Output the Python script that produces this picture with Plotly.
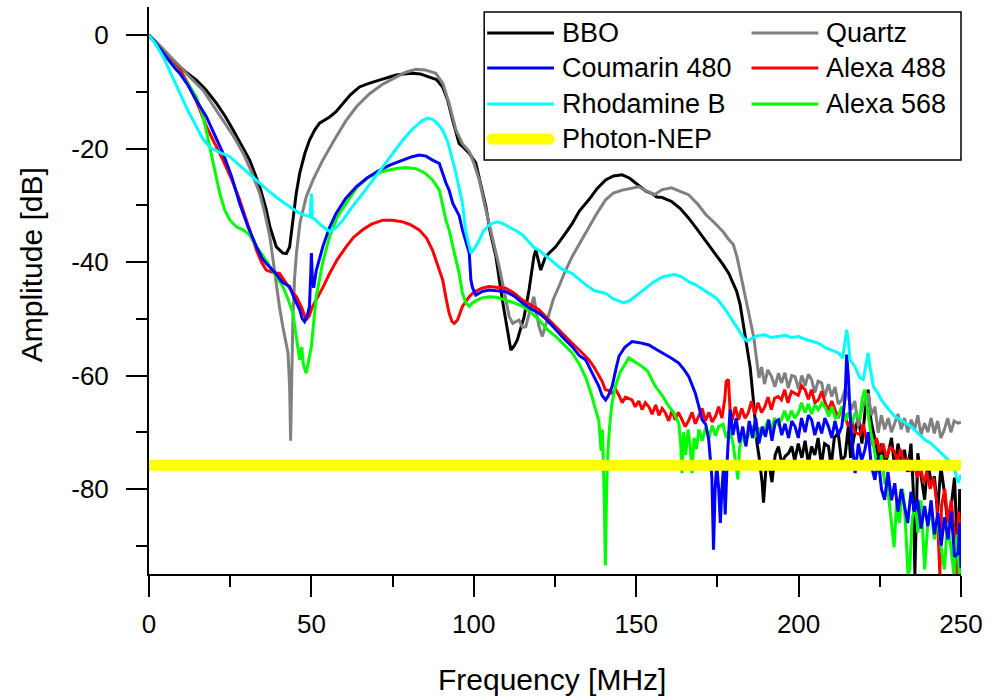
import plotly.graph_objects as go

# ---------------------------------------------------------------- data
bbo_freq = [0, 2, 4, 6, 8.5, 11, 14.6, 17.5, 20.8, 23.5, 25.9, 28.5, 31, 34.1, 36, 37.2, 39.2, 41.2, 42.3,
            43.3, 44.3, 45.3, 46.4, 48, 49.4, 51, 52.5, 55.6, 57.5, 59.7, 62, 64.8, 67.5, 70.9, 73.5, 76.1,
            78.5, 81.2, 83.5, 86.3, 88.5, 90.4, 92, 93.5, 95.5, 96.5, 98.6, 100.6, 102, 103.7, 105, 106.8,
            108.8, 110.4, 111.4, 112.4, 113.4, 115.5, 117, 118.5, 119.1, 120, 120.6, 122.1, 125.2, 127.5,
            130.3, 132.5, 135.4, 138, 140.6, 143, 145.7, 148, 150.8, 153, 154.9, 156.3, 158, 160.9, 163.5,
            166.1, 168.5, 171.4, 174, 176.7, 178.5, 180.9, 182, 183, 184, 185.1, 186.2, 187.2, 187.8, 188.8,
            189.2, 190, 190.8, 191.8, 192.8, 193.8, 194.8, 195.9, 196.9, 197.9, 198.8, 199.9, 201, 202, 203,
            204, 205, 206, 207, 208, 209.2, 210, 211, 212.2, 213.2, 214.3, 215.3, 216, 217, 218.4, 219.5,
            220.5, 221.4, 222.3, 223.5, 224.5, 225.5, 226.5, 227.6, 228.6, 229.6, 230.6, 231.6, 232.6, 233.6,
            234.6, 235.3, 235.8, 236.7, 237.7, 238.8, 239.8, 240.8, 241.8, 242.8, 243.8, 244.9, 245.9, 247,
            248, 249.1, 249.6, 250]
bbo_db = [0, -1.2, -2.6, -3.8, -5.0, -6.3, -7.9, -9.6, -12.0, -14.3, -16.7, -19.3, -22.0, -26.7, -30.5, -33.7,
          -37.3, -38.4, -38.5, -37.3, -32.6, -28, -24.3, -20.8, -18.5, -16.7, -15.5, -14.4, -13.5, -12.0,
          -10.5, -9.1, -8.5, -7.9, -7.5, -7.0, -6.8, -6.7, -6.8, -7.3, -7.8, -9.1, -11.5, -15.0, -19.1, -19.6,
          -20.8, -22.5, -26, -30.2, -34.5, -39, -46.7, -52.5, -55.5, -54.8, -53.7, -49.6, -44.9, -39, -37.9,
          -40, -41.4, -39, -37.3, -35.5, -33.2, -31, -29, -27, -25.5, -24.8, -24.6, -25.2, -26.4, -27.5,
          -27.9, -28.5, -28.6, -29.3, -30.5, -32.2, -34.0, -36.3, -38.2, -40.4, -42, -45.1, -47.5, -51.0,
          -54.5, -58.6, -65.1, -72, -74.2, -79, -82.4, -76, -75.3, -78.8, -74, -72.5, -75.5, -74.2, -73.7,
          -72.5, -75, -72, -74.5, -71.5, -75.5, -72.5, -74, -71, -75.8, -72, -72.5, -76, -71, -70.1, -75,
          -74.2, -69, -74.5, -71, -67.2, -72, -66, -62.5, -68, -71.3, -75.5, -72, -76, -73.7, -71, -76.5,
          -72, -75, -73.1, -77, -72, -80, -95, -73.7, -78, -81.9, -75, -79, -77.8, -84, -76, -80.7, -86, -83,
          -78, -93.6, -80, -88]

quartz_freq = [0, 2, 4, 6, 9.5, 13, 16.7, 19.5, 22.8, 26, 29, 31.5, 34.1, 35.7, 37.2, 38.2, 39.2, 40.2, 41.2,
               42, 42.8, 43.3, 43.6, 43.9, 44.3, 44.8, 45.4, 46.5, 48.4, 50.5, 53.5, 57, 60.7, 64, 67.9, 72,
               76.1, 79, 82.2, 85, 88.3, 90.5, 92.4, 94.5, 96.5, 98.6, 100, 101.7, 103.2, 104.7, 106.2, 107.8,
               109.9, 110.9, 112, 113.9, 115, 116, 117.3, 118.5, 119.3, 120.1, 121.1, 122.2, 123.2, 124.5,
               126.2, 128, 130.3, 132.8, 135.4, 138, 140.6, 143, 145.7, 148, 150.8, 153, 155.6, 158, 160.9,
               163.5, 166.1, 169, 171.4, 174, 176.7, 178.5, 179.9, 181, 182, 183, 184.1, 185.2, 186.2, 187,
               187.8, 188.6, 189.5, 190.5, 191.7, 192.7, 193.8, 194.7, 195.8, 196.8, 197.9, 198.9, 200, 201,
               202, 203, 204, 205, 206, 207.1, 208, 209.2, 210.2, 211.2, 212.2, 213.3, 214.3, 215.3, 216.3,
               217.3, 218.4, 219.4, 220.4, 221.4, 222.4, 223.5, 224.5, 225.5, 226.5, 227.6, 228.6, 229.6,
               230.6, 231.6, 232.6, 233.6, 234.7, 235.7, 236.7, 237.7, 238.8, 239.8, 240.8, 241.8, 242.8,
               243.8, 244.9, 245.9, 246.9, 247.9, 249.1, 250]
quartz_db = [0, -1.0, -2.2, -3.4, -5.6, -7.6, -9.7, -12.2, -15.0, -17.8, -20.8, -24, -27.9, -31.5, -35.5, -40,
             -44.3, -48, -51.4, -53.5, -56, -62, -71.5, -62, -50, -43, -38.4, -33, -28.5, -25.5, -22, -18.5,
             -15, -12.5, -10.3, -8.6, -7.3, -6.5, -6.0, -6.1, -6.7, -8.5, -12.0, -16.7, -19.1, -20.5, -22.5,
             -25.5, -29.5, -33.2, -37, -40.8, -46.7, -49.6, -50.8, -50.2, -51.5, -51.4, -48.5, -46.1, -49,
             -51.4, -53.1, -51, -49, -46.5, -44.3, -41.8, -39, -36.5, -33.8, -31.3, -29, -27.8, -27.3, -27.0,
             -26.7, -27.4, -28.1, -27.2, -26.9, -27.5, -28.1, -29.8, -31.6, -33, -34.6, -36, -36.9, -39,
             -41.6, -44.5, -47.5, -50.5, -53.3, -57, -60.4, -58.5, -61.5, -59, -60.2, -62, -59.6, -61.3,
             -59.5, -62.2, -60, -60.2, -62.4, -60, -61.8, -59.8, -60.7, -63, -61, -61.3, -63.8, -61.5, -63.7,
             -62, -65, -64.3, -62.5, -63.7, -66, -64.5, -69, -66, -64.5, -63.1, -67, -65.5, -70.1, -67, -69.5,
             -67.5, -70, -68.4, -66.8, -69.5, -67.5, -70, -67.8, -69.5, -67, -70.5, -68.4, -70, -67.5, -70.2,
             -68, -71, -69.5, -67.5, -70, -68, -68.4, -68.2]

coumarin_freq = [0, 2, 4, 6, 8, 9.5, 12, 14.5, 17.7, 20, 22.8, 25.5, 27.9, 30.5, 33.1, 35, 37.2, 39, 41, 43.3,
                 44.8, 46.4, 47.2, 47.9, 48.7, 49.4, 49.8, 50, 50.3, 50.7, 51.5, 53.5, 55.5, 57.6, 60.5, 63.8,
                 67, 70.9, 74.5, 78.1, 81, 83.2, 85.3, 87.3, 89.4, 91.4, 92.4, 93.5, 95.5, 96.5, 97.6, 98.6,
                 99.1, 99.6, 100.6, 102.5, 104.7, 107, 109.8, 112.5, 115, 117.5, 120.1, 122.5, 125.2, 127.8,
                 130.3, 132.5, 134.4, 136.5, 138.5, 139.5, 140.6, 141.5, 142.6, 143.7, 144.7, 146.5, 148.7,
                 151, 153.9, 156.5, 159, 161, 163.1, 164.8, 166.2, 167.2, 168.2, 169.3, 170.3, 171.4, 172.3,
                 173.3, 173.8, 174.3, 174.8, 175.4, 175.9, 176.4, 176.9, 177.4, 178.1, 178.9, 179.8, 180.8,
                 181.8, 182.8, 183.8, 184.8, 185.8, 186.8, 187.8, 188.8, 189.8, 190.8, 191.8, 192.8, 193.8,
                 194.8, 195.8, 196.9, 197.9, 198.9, 199.9, 200.9, 202, 203, 204, 205, 206.1, 207.1, 208.1,
                 209.2, 210.2, 211.2, 212.2, 213.3, 214.3, 214.8, 215.3, 215.8, 216.4, 217.4, 218.4, 219.4,
                 220.4, 221.4, 222.4, 223.5, 224.5, 225.5, 226.5, 227.5, 228.6, 229.6, 230.6, 231.6, 232.6,
                 233.6, 234.6, 235.7, 236.7, 237.7, 238.8, 239.8, 240.8, 241.8, 242.9, 243.9, 244.9, 246, 247,
                 248, 249.1, 249.6, 250]
coumarin_db = [0, -1.3, -2.8, -4.3, -5.8, -6.7, -8.8, -11.4, -14.4, -17.3, -20.8, -25, -29.6, -33.8, -37.3,
               -39.5, -40.8, -42, -43.5, -44.3, -46.5, -48.4, -50, -50.5, -49.5, -47.8, -42, -38.4, -43, -44.5,
               -41.5, -37.3, -34, -31.4, -28.8, -26.7, -25.2, -23.8, -22.8, -22.0, -21.4, -21.1, -21.3, -22.0,
               -22.6, -26.0, -27.3, -29.6, -31.8, -34.3, -36.5, -38.4, -43.1, -44.5, -45.8, -45.2, -44.9, -45.0,
               -45.2, -46, -47.2, -48.2, -49, -50.2, -51.9, -53.5, -54.9, -56.5, -57.2, -59.5, -61.9, -63.5,
               -64.3, -63.5, -61.9, -59, -56.6, -55, -54, -54.2, -54.6, -55.5, -56.3, -57, -57.8, -59, -60.2,
               -61.5, -63.1, -65.5, -67.8, -68.6, -71.2, -78, -90.7, -80, -75.8, -80, -86, -80, -76, -84.5, -74,
               -66, -70.5, -67.5, -71.8, -69, -72.5, -68, -71, -67.5, -72, -69, -70.8, -67.8, -71.5, -68.2,
               -67.8, -70.5, -68.5, -71, -68, -69, -71, -67.5, -70, -67, -67.8, -70.5, -68.2, -70.2, -67.5,
               -69, -71, -68, -70.5, -69, -64, -56.3, -60, -66, -71.3, -77.2, -72, -75, -73.1, -70, -76,
               -78.4, -74.5, -80, -81.9, -77, -82, -79, -84, -80, -83, -86, -80.5, -84, -81.9, -87, -83, -86.6,
               -82, -88, -84.2, -90, -85, -88.9, -84, -92, -91.3, -86, -94]

alexa488_freq = [0, 2, 4, 6, 8, 9.5, 12, 14.5, 17.7, 20, 22.8, 25.5, 27.9, 30.5, 33.1, 34.6, 36.1, 38, 40.2, 42,
                 43.8, 45.4, 47, 48.4, 49.3, 50.2, 51.5, 53.5, 55.6, 58, 60.7, 63, 65.8, 68.5, 72, 75, 78.1,
                 80.5, 83.2, 85.5, 87.3, 89.4, 90.4, 91.5, 92.4, 93.3, 94, 95, 96.5, 98.6, 99.6, 101, 102.5,
                 104.7, 107, 109.8, 112.5, 115, 117.5, 120.1, 122.5, 125.2, 127.8, 130.3, 133, 135.4, 137,
                 138.5, 139.5, 140.5, 141.9, 142.6, 143.7, 144.7, 145.7, 146.7, 148.7, 149.7, 150.8, 151.8,
                 152.8, 153.9, 154.9, 156, 157, 158, 159, 160, 161, 162, 163, 164.1, 165.1, 166.1, 167.2,
                 168.2, 169.3, 170.3, 171.3, 172.4, 173.4, 174.4, 175.4, 176.4, 177.3, 177.7, 178.4, 178.9,
                 179.5, 180.5, 181.5, 182.5, 183.5, 184.5, 185.5, 186.5, 187.5, 188.6, 189.6, 190.6, 191.6,
                 192.6, 193.7, 194.7, 195.7, 196.7, 197.8, 198.9, 199.9, 200.9, 202, 203, 204, 205, 206.1,
                 207.1, 208.3, 209.2, 210.2, 211.2, 212.2, 213.2, 214.3, 215.3, 216.3, 217.3, 218.9, 219.9,
                 220.9, 222, 223, 224, 225, 226, 227, 228.2, 229.4, 230.4, 231.4, 232.5, 233.5, 234.5, 235.5,
                 236.5, 237.5, 238.5, 239.5, 240.5, 241.5, 242.5, 243.5, 244, 245, 246, 247, 248, 248.8,
                 249.3, 250]
alexa488_db = [0, -1.3, -2.7, -4.1, -5.3, -6.0, -8.5, -11.5, -16.1, -18.8, -22.0, -25.5, -29.0, -33.5, -37.9,
               -40, -41.4, -41.8, -42, -43.5, -45, -46.1, -48, -50.2, -49.5, -48, -46.7, -44.5, -42, -39.5,
               -37.3, -35.6, -34.3, -33.3, -32.6, -32.6, -32.9, -33.4, -34.3, -35.8, -37.9, -41.4, -43.1,
               -46.5, -49.0, -50.5, -50.8, -50.2, -47.8, -46.1, -45.5, -45.0, -44.6, -44.3, -44.4, -44.6,
               -45.5, -46.7, -47.5, -48.4, -49.8, -51.4, -52.9, -54.3, -55.8, -57.2, -58.5, -59.9, -61,
               -62.5, -62.7, -63.1, -62.5, -63.5, -64.8, -63.8, -64.3, -65.5, -64.5, -66, -64.8, -65.5, -66.8,
               -65.2, -67, -65.8, -66.6, -68, -66.2, -67.8, -66.5, -67.8, -69, -68, -66.5, -68.5, -67.2,
               -65.8, -68, -66.5, -68.2, -67.2, -65.5, -67.5, -64, -61, -60.7, -66, -68, -65.5, -67.8, -65.8,
               -67.5, -66.6, -64.5, -66.8, -64.8, -66.5, -65.5, -63.8, -66, -64, -63.7, -64.3, -62.5, -64.8,
               -62.8, -63.1, -63.5, -61.8, -62.5, -64.2, -62.5, -64.8, -64.3, -62.8, -65, -66.2, -64.5, -66,
               -67.5, -65.8, -67.2, -69, -67.5, -70, -70.4, -68.5, -71.5, -70, -72.5, -71, -73.5, -72, -74.5,
               -72.5, -73.3, -75, -73, -76, -74.5, -77, -75, -78, -76, -79, -77, -80, -78, -82, -95, -83, -80,
               -86, -82, -88, -95, -84, -90]

rhodamine_freq = [0, 2, 4.4, 7, 9.5, 12, 14.6, 16.5, 18.7, 21.5, 24.9, 29, 33.1, 36.5, 40.2, 43.5, 46.4, 48.5,
                  49.6, 50, 50.3, 51, 53, 55.6, 57.5, 59.7, 62.5, 65.8, 69, 72, 75, 78.1, 81, 84.2, 86, 87.3,
                  88.8, 90.4, 92, 93.5, 94.5, 95.5, 96.5, 97.5, 98.6, 99.1, 100, 101.7, 103, 104.7, 106,
                  107.3, 109, 111, 113.4, 115, 118.7, 120.1, 124, 127, 130.3, 134.5, 137, 140.6, 143, 146.2,
                  148, 150.8, 153, 155.6, 158.5, 161.9, 164, 166, 168.3, 171, 174.6, 177, 179.9, 181.5, 183,
                  184.1, 185.5, 187.2, 189.6, 191.5, 193.8, 196, 197.8, 199.9, 202, 204, 206.1, 208.3, 210.3,
                  212.2, 213.6, 214.3, 214.8, 215.3, 215.8, 217.3, 218.9, 219.9, 220.8, 221.4, 222, 223,
                  224.3, 225.5, 227.5, 229.6, 232, 234.7, 236.8, 238.8, 240.9, 242.9, 245, 247, 248, 249.1, 250]
rhodamine_db = [0, -1.5, -3.8, -7, -10.3, -13.3, -16.1, -18.2, -19.7, -20.6, -21.4, -23.5, -25.5, -27.3, -29.0,
                -30.3, -31.4, -31.8, -32, -27.9, -32.2, -32.4, -33.5, -34.6, -34, -32.6, -30.3, -27.9, -25.5,
                -23.2, -20.8, -18.5, -16.6, -15.0, -14.6, -14.8, -15.5, -16.7, -18.8, -22.0, -24.3, -27, -29.6,
                -34.5, -37.5, -38.4, -37.8, -36.1, -34.5, -33.5, -33.1, -32.9, -33.2, -33.8, -34.6, -35.2,
                -37.5, -37.9, -39.8, -41.2, -42, -44, -45, -45.5, -46.5, -47.2, -46.8, -45.5, -44.5, -43.4,
                -42.5, -42.2, -42.6, -43.4, -44, -45, -46.3, -48, -50.4, -51.9, -53.3, -53.9, -53.5, -53,
                -52.8, -53.3, -53.1, -52.9, -53.3, -53.1, -53.6, -54, -54.3, -55.1, -55.5, -56, -56.9, -54,
                -51.9, -54, -57.2, -58.4, -60.4, -60.7, -58, -56, -58.5, -61.9, -63, -64.3, -65.8, -67.2, -68,
                -69, -70.2, -71.3, -72, -73.1, -74.2, -75.4, -76.5, -78.9, -77.5]

alexa568_freq = [0, 2, 4, 6, 8, 9.5, 12, 14.6, 16.5, 17.5, 18.7, 20.2, 21.8, 23.3, 24.9, 27, 29, 31, 33.1, 35,
                 37.2, 39, 41.2, 42.8, 44.3, 45.3, 46.4, 47, 47.5, 48.4, 49.2, 50, 50.8, 51.5, 53.5, 55.6, 58,
                 60.7, 64, 67.9, 72, 76.1, 79, 82.2, 85, 87.3, 89.4, 91.4, 92.4, 94.5, 95.5, 96.5, 97.6, 98.6,
                 99.6, 101, 102.5, 104.7, 107, 109.8, 112.5, 115, 117.5, 120.1, 122.5, 125.2, 127.8, 130.3,
                 132.5, 134.5, 136, 137.7, 138.5, 139.2, 139.6, 140.1, 140.5, 140.9, 141.3, 141.8, 142.5,
                 143.6, 145, 147.7, 149.5, 151.8, 153.5, 155.9, 158, 160, 161.5, 163.1, 163.7, 164.1, 164.6,
                 165.2, 166, 166.6, 167.2, 167.8, 168.5, 169.3, 170.3, 171.4, 172.4, 173.4, 174.4, 175.4,
                 176.7, 177.7, 178.8, 179.8, 180.8, 181.3, 181.8, 182.6, 183.5, 184.5, 185.5, 186.5, 187.5,
                 188.6, 189.6, 190.6, 191.6, 192.6, 193.7, 194.7, 195.7, 196.7, 197.8, 198.8, 199.9, 200.9,
                 202, 203, 204, 205, 206.1, 207.1, 208.3, 209.3, 210.3, 211.3, 212.2, 213.2, 214.3, 215.3,
                 216.3, 217.3, 218.9, 219.6, 220.4, 221.2, 222.2, 223.3, 224.5, 225.5, 226.5, 227.3, 228.3,
                 229.4, 230.2, 231, 232, 232.6, 233.7, 234.2, 235, 236, 236.7, 237.7, 238.8, 239.8, 240.8,
                 241.8, 242.8, 243.8, 244.9, 245.8, 246.8, 247.8, 248.8, 249.5, 250]
alexa568_db = [0, -1.3, -2.8, -4.3, -5.6, -6.7, -8.5, -10.9, -14, -16.5, -19.7, -24, -27.9, -30.8, -32.6, -33.8,
               -34.3, -35.2, -37.3, -38.8, -40.8, -42.5, -44.3, -46.5, -49, -53, -57.2, -55, -58, -59.6, -57,
               -54.9, -50, -46.1, -40, -35.5, -32, -29.6, -26.8, -24.9, -24, -23.5, -23.3, -23.5, -24.3, -25.5,
               -27.3, -32.6, -34.3, -39.6, -42, -45.5, -47.2, -47.8, -47.2, -46.7, -46.3, -46.1, -46.2, -46.7,
               -47.2, -47.8, -48.8, -50.2, -51.8, -53.1, -54.6, -56, -58, -60.4, -63, -66.2, -68, -73.3,
               -69.5, -80, -93.5, -80, -73.3, -69, -65, -61.9, -59.5, -56.9, -57.5, -58.4, -59.2, -61.9,
               -63.5, -65.4, -66.5, -68.4, -72, -77.2, -70, -74, -69.5, -72.5, -77.2, -71, -73, -69.5, -71.5,
               -69.2, -71, -68.8, -70.6, -69, -68.6, -71, -69.5, -72, -76, -78.3, -73, -70, -72, -70.6, -68.8,
               -71, -69.2, -70.5, -69.5, -67.8, -69.8, -67.5, -68.6, -67.8, -66.2, -68, -66.2, -67.5, -66.6,
               -64.8, -66.5, -65, -66.8, -65.2, -66, -64.8, -65.7, -67.2, -65.5, -67.5, -67.2, -65.5, -68,
               -66.5, -68.5, -66.8, -67.4, -64, -62.5, -66, -70, -73, -77.2, -74, -79, -79.2, -84, -90.3, -82,
               -86, -80, -83, -95, -94.2, -85, -83, -87.7, -82, -94.2, -86, -84, -88.9, -85, -90, -94.2, -86,
               -90, -95, -88, -95, -92]

nep_freq = [0, 250]
nep_db = [-75.8, -75.8]

# ---------------------------------------------------------------- styles
FONT = "Arial, Liberation Sans, sans-serif"
W, H = 990, 700
ML, MR, MT, MB = 149, 27, 7, 126
LW = 3

series = [
    ("BBO", bbo_freq, bbo_db, "#000000", LW),
    ("Quartz", quartz_freq, quartz_db, "#808080", LW),
    ("Alexa 488", alexa488_freq, alexa488_db, "#ff0000", LW),
    ("Alexa 568", alexa568_freq, alexa568_db, "#00ff00", LW),
    ("Coumarin 480", coumarin_freq, coumarin_db, "#0000ff", LW),
    ("Rhodamine B", rhodamine_freq, rhodamine_db, "#00ffff", LW),
    ("Photon-NEP", nep_freq, nep_db, "#ffff00", 11),
]

fig = go.Figure()
for name, fx, fy, col, lw in series:
    fig.add_trace(go.Scatter(x=fx, y=fy, mode="lines", name=name, showlegend=False,
                             line=dict(color=col, width=lw)))


def px_x(p):
    return (p - ML) / (W - ML - MR)


def px_y(p):
    return (H - MB - p) / (H - MT - MB)


# ---------------------------------------------------------------- legend box (two columns)
shapes = [dict(type="rect", xref="paper", yref="paper",
               x0=px_x(485), x1=px_x(963), y0=px_y(160), y1=px_y(12),
               line=dict(color="black", width=1.5), fillcolor="white", layer="above")]
annotations = []
legend_items = [
    ("BBO", "#000000", LW, 0, 0), ("Quartz", "#808080", LW, 1, 0),
    ("Coumarin 480", "#0000ff", LW, 0, 1), ("Alexa 488", "#ff0000", LW, 1, 1),
    ("Rhodamine B", "#00ffff", LW, 0, 2), ("Alexa 568", "#00ff00", LW, 1, 2),
    ("Photon-NEP", "#ffff00", 11, 0, 3),
]
col_x = [488, 753]
row_y = [33, 68, 104, 139]
for name, col, lw, c, r in legend_items:
    x0, x1, yy = col_x[c], col_x[c] + 67, row_y[r]
    if lw > 5:
        x0 += 5
        x1 -= 5
        for cx in (x0, x1):
            shapes.append(dict(type="circle", xref="paper", yref="paper",
                               x0=px_x(cx - 5.5), x1=px_x(cx + 5.5),
                               y0=px_y(yy + 5.5), y1=px_y(yy - 5.5),
                               line=dict(width=0), fillcolor=col, layer="above"))
    shapes.append(dict(type="line", xref="paper", yref="paper",
                       x0=px_x(x0), x1=px_x(x1), y0=px_y(yy), y1=px_y(yy),
                       line=dict(color=col, width=lw), layer="above"))
    annotations.append(dict(text=name, xref="paper", yref="paper",
                            x=px_x(col_x[c] + 73), y=px_y(yy), xanchor="left", yanchor="middle",
                            showarrow=False, font=dict(family=FONT, size=27, color="black")))

# axis titles
annotations.append(dict(text="Frequency [MHz]", xref="paper", yref="paper",
                        x=px_x(553), y=px_y(680), xanchor="center", yanchor="middle",
                        showarrow=False, font=dict(family=FONT, size=30, color="black")))
annotations.append(dict(text="Amplitude [dB]", xref="paper", yref="paper",
                        x=px_x(31), y=px_y(265), xanchor="center", yanchor="middle", textangle=-90,
                        showarrow=False, font=dict(family=FONT, size=30, color="black")))

axis_common = dict(showline=True, linecolor="black", linewidth=2, showgrid=False, zeroline=False,
                   ticks="outside", ticklen=21, tickwidth=2, tickcolor="black",
                   tickfont=dict(family=FONT, size=26, color="black"))

fig.update_layout(
    width=W, height=H,
    margin=dict(l=ML, r=MR, t=MT, b=MB, pad=0),
    paper_bgcolor="white", plot_bgcolor="white",
    showlegend=False,
    shapes=shapes, annotations=annotations,
    xaxis=dict(range=[0, 250], tickmode="linear", tick0=0, dtick=50, ticklabelstandoff=5,
               minor=dict(ticks="outside", ticklen=11, tickwidth=2, tickcolor="black", dtick=25, tick0=0),
               **axis_common),
    yaxis=dict(range=[-95, 5], tickmode="array", tickvals=[0, -20, -40, -60, -80],
               ticktext=["0", "-20", "-40", "-60", "-80"], ticklabelstandoff=12,
               minor=dict(ticks="outside", ticklen=11, tickwidth=2, tickcolor="black",
                          tickmode="array", tickvals=[-10, -30, -50, -70, -90]),
               **axis_common),
)

fig.write_html("out.html")
